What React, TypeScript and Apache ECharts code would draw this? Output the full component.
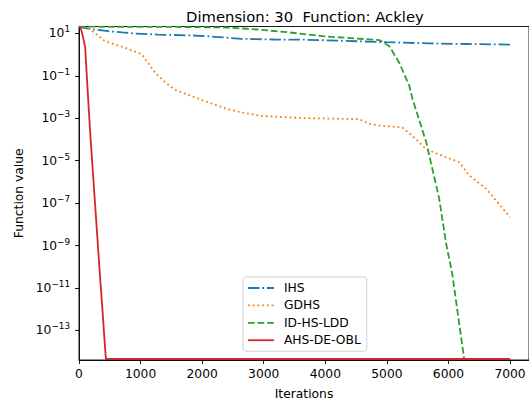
import React, { useEffect, useRef } from "react";
import * as echarts from "echarts";

// Best value reached by the algorithms that converge (Ackley numerical floor)
const FLOOR = 4.44e-15;

// IHS
const ihsIter = [0, 60, 200, 470, 700, 907, 1280, 1831, 2204, 2641, 3176, 3662, 4300, 4991, 5688, 6300, 7000];
const ihsVal = [21, 19, 16, 12.9, 11.2, 10, 8.9, 8.1, 7.0, 5.6, 5.2, 5.1, 4.5, 3.9, 3.4, 3.2, 3.0];

// GDHS
const gdhsIter = [0, 150, 280, 420, 750, 1020, 1100, 1230, 1400, 1550, 1830, 2090, 2410, 2640, 2960, 3420, 3660, 4550, 4720, 4880, 5250, 5410, 5640, 5960, 6170, 6340, 6610, 7000];
const gdhsVal = [21, 18.6, 9.3, 4.4, 2.1, 1.05, 0.5, 0.15, 0.05, 0.023, 0.011, 0.0058, 0.0027, 0.0019, 0.0013, 0.0011, 0.00102, 0.00091, 0.00054, 0.00045, 0.00037, 0.00015, 3.5e-5, 1.45e-5, 8.7e-6, 2.0e-6, 4.8e-7, 2.2e-8];

// ID-HS-LDD
const idhsIter = [0, 1500, 2400, 2900, 3420, 3950, 4500, 4880, 5040, 5200, 5364, 5417, 5639, 5850, 5963, 6060, 6255, 7000];
const idhsVal = [21, 20.5, 19.2, 15.4, 11.2, 7.5, 5.8, 4.9, 2.5, 0.42, 0.034, 0.008, 7.6e-5, 1.6e-7, 1.2e-9, 5e-11, FLOOR, FLOOR];

// AHS-DE-OBL
const ahsIter = [0, 30, 60, 100, 140, 180, 220, 260, 300, 340, 380, 420, 437, 7000];
const ahsVal = [21, 17, 8, 2.2, 0.022, 2.5e-4, 5e-6, 1e-7, 2e-9, 4e-11, 1e-12, 2e-14, FLOOR, FLOOR];

const seriesNames = ["IHS", "GDHS", "ID-HS-LDD", "AHS-DE-OBL"];
const seriesColors = ["#1f77b4", "#ff7f0e", "#2ca02c", "#d62728"];

const xTicks = [0, 1000, 2000, 3000, 4000, 5000, 6000, 7000];
const yTickExps = [1, -1, -3, -5, -7, -9, -11, -13];

const FONT = "DejaVu Sans";
const FS = 12.3;
const LW = 1.8;

const toLogPoints = (iters: number[], vals: number[]) =>
  iters.map((it, i) => [it, Math.log10(vals[i])]);

const supLabel = (exp: number) => {
  const e = Math.round(exp);
  const s = e < 0 ? "\u2212" + String(-e) : String(e);
  return `{b|10}{s|${s}}`;
};

export default function App() {
  const ref = useRef<HTMLDivElement>(null);

  useEffect(() => {
    if (!ref.current) return;
    const chart = echarts.init(ref.current, undefined, { renderer: "svg" });

    const dashes: (number[] | string)[] = [
      [11.5, 2.9, LW, 2.9],
      [LW, 2.95],
      [6.7, 2.9],
      "solid",
    ];
    const data = [
      toLogPoints(ihsIter, ihsVal),
      toLogPoints(gdhsIter, gdhsVal),
      toLogPoints(idhsIter, idhsVal),
      toLogPoints(ahsIter, ahsVal),
    ];

    chart.setOption({
      animation: false,
      backgroundColor: "#ffffff",
      textStyle: { fontFamily: FONT },
      title: {
        text: "Dimension: 30  Function: Ackley",
        left: 181,
        top: 4,
        textStyle: { fontFamily: FONT, fontSize: 14.8, fontWeight: "normal", color: "#000" },
      },
      grid: {
        left: 79,
        right: -1,
        top: 26.5,
        bottom: 41.7,
        show: true,
        borderColor: "#000",
        borderWidth: 0.9,
        backgroundColor: "transparent",
      },
      legend: {
        orient: "vertical",
        left: 243,
        top: 277,
        itemWidth: 26,
        itemHeight: 10,
        itemGap: 5.4,
        padding: [5, 6, 5, 4],
        borderColor: "#d0d0d0",
        borderWidth: 1,
        borderRadius: 3,
        backgroundColor: "rgba(255,255,255,0.8)",
        itemStyle: { opacity: 0 },
        lineStyle: { width: LW },
        textStyle: { fontFamily: FONT, fontSize: FS, color: "#000", padding: [0, 0, 0, 5] },
        data: seriesNames,
      },
      xAxis: {
        type: "value",
        min: 0,
        max: 7308,
        name: "Iterations",
        nameLocation: "middle",
        nameGap: 28,
        nameTextStyle: { fontFamily: FONT, fontSize: FS, color: "#000" },
        axisLine: { show: true, onZero: false, lineStyle: { color: "#000", width: 0.9 } },
        axisTick: { show: true, length: 4, customValues: xTicks, lineStyle: { color: "#000", width: 0.9 } },
        axisLabel: {
          customValues: xTicks,
          margin: 7.5,
          formatter: (v: number) => String(v),
          fontFamily: FONT,
          fontSize: FS,
          color: "#000",
        },
        splitLine: { show: false },
      },
      yAxis: {
        type: "value",
        min: -14.4,
        max: 1.33,
        name: "Function value",
        nameLocation: "middle",
        nameGap: 52,
        nameTextStyle: { fontFamily: FONT, fontSize: FS, color: "#000" },
        axisLine: { show: true, onZero: false, lineStyle: { color: "#000", width: 0.9 } },
        axisTick: { show: true, length: 4, customValues: yTickExps, lineStyle: { color: "#000", width: 0.9 } },
        axisLabel: {
          customValues: yTickExps,
          margin: 9,
          formatter: (v: number) => supLabel(v),
          rich: {
            b: { fontFamily: FONT, fontSize: FS, lineHeight: 14, color: "#000" },
            s: { fontFamily: FONT, fontSize: 8.8, lineHeight: 10, color: "#000", padding: [0, 0, 8, 0] },
          },
        },
        splitLine: { show: false },
      },
      series: seriesNames.map((name, i) => ({
        name,
        type: "line",
        data: data[i],
        symbol: "none",
        showSymbol: false,
        clip: true,
        z: 2 + i,
        color: seriesColors[i],
        lineStyle: { color: seriesColors[i], width: LW, type: dashes[i], cap: "butt" },
      })),
    });

    return () => chart.dispose();
  }, []);

  return (
    <div
      ref={ref}
      style={{ position: "fixed", left: 0, top: 0, width: 529, height: 405, background: "#fff" }}
    />
  );
}
